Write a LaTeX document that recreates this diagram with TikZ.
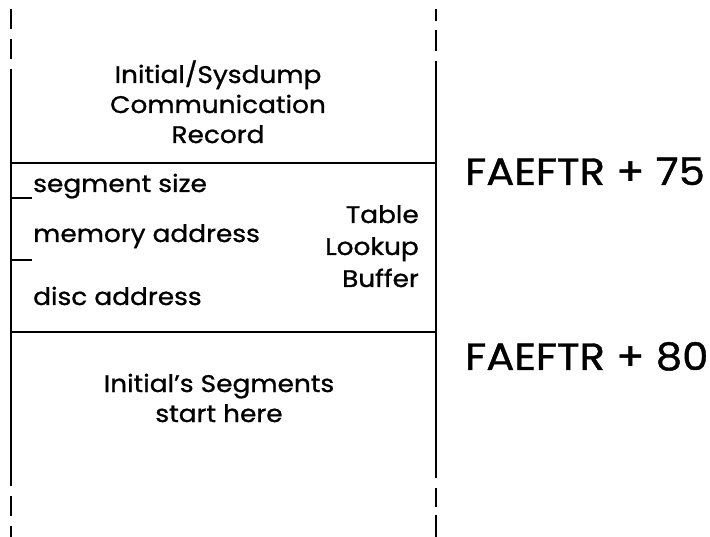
\documentclass[tikz,border=0pt]{standalone}
\usepackage{fontspec}
\setmainfont{Poppins}[FakeStretch=1.1,FakeBold=1]
\begin{document}
\begin{tikzpicture}[x=1pt,y=-1pt,
  wall/.style={line width=2pt},
  lbl/.style={inner sep=0pt,anchor=base,font=\fontsize{24}{30}\selectfont},
  big/.style={inner sep=0pt,anchor=base west,font=\fontsize{38}{40}\selectfont}]
\useasboundingbox (0,0) rectangle (710,537);
% left wall
\coordinate (L0) at (10.5,9);   \coordinate (L1) at (10.5,29);
\coordinate (L2) at (10.5,39);  \coordinate (L3) at (10.5,59);
\coordinate (L4) at (10.5,69);  \coordinate (L5) at (10.5,486);
\coordinate (L6) at (10.5,496); \coordinate (L7) at (10.5,516);
\coordinate (L8) at (10.5,526); \coordinate (L9) at (10.5,537);
% right wall
\coordinate (R0) at (436,9);   \coordinate (R1) at (436,21);
\coordinate (R2) at (436,30);  \coordinate (R3) at (436,51);
\coordinate (R4) at (436,61);  \coordinate (R5) at (436,478);
\coordinate (R6) at (436,488); \coordinate (R7) at (436,507);
\coordinate (R8) at (436,515); \coordinate (R9) at (436,537);
\draw[wall] (L0)--(L1) (L2)--(L3) (L4)--(L5) (L6)--(L7) (L8)--(L9);
\draw[wall] (R0)--(R1) (R2)--(R3) (R4)--(R5) (R6)--(R7) (R8)--(R9);
% dividers
\coordinate (D1l) at (10.5,163); \coordinate (D1r) at (436,163);
\coordinate (D2l) at (10.5,332); \coordinate (D2r) at (436,332);
\draw[wall] (D1l)--(D1r) (D2l)--(D2r);
% ticks
\coordinate (T1a) at (10.5,198); \coordinate (T1b) at (32,198);
\coordinate (T2a) at (10.5,260); \coordinate (T2b) at (32,260);
\draw[wall] (T1a)--(T1b) (T2a)--(T2b);
% texts
\node[lbl,align=center] (comm) at (218,143) {Initial/Sysdump\\Communication\\Record};
\node[lbl,anchor=base west] (seg) at (33,192) {segment size};
\node[lbl,anchor=base west] (mem) at (33,242) {memory address};
\node[lbl,anchor=base west] (disc) at (33,305) {disc address};
\node[lbl,anchor=base east,align=right,font=\fontsize{24}{32}\selectfont] (tlb) at (419,287) {Table\\Lookup\\Buffer};
\node[lbl,align=center] (initseg) at (219,422) {Initial’s Segments\\start here};
\node[big] (f75) at (465,185) {FAEFTR + 75};
\node[big] (f80) at (465,370) {FAEFTR + 80};
\end{tikzpicture}
\end{document}
